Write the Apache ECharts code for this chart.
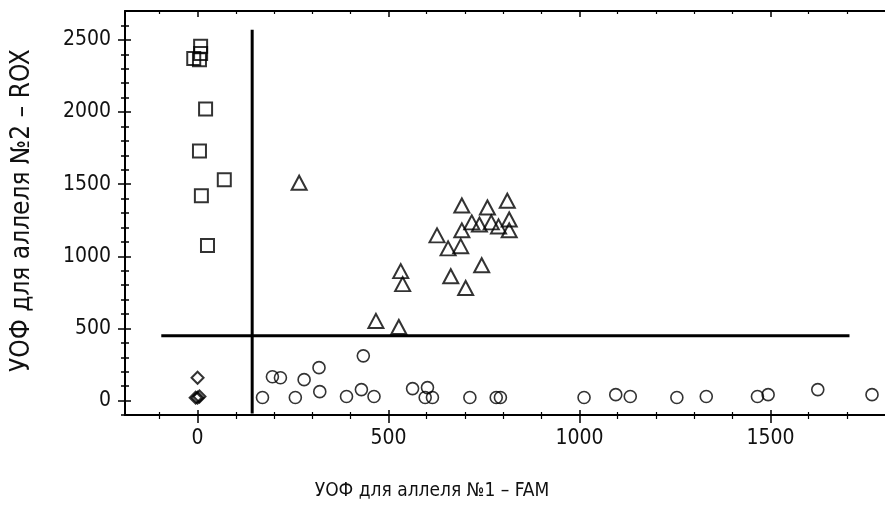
<!DOCTYPE html>
<html>
<head>
<meta charset="utf-8">
<script src="https://cdn.jsdelivr.net/npm/echarts@6/dist/echarts.min.js"></script>
<style>
html,body{margin:0;padding:0;background:#fff;}
#chart{width:885px;height:517px;}
</style>
</head>
<body>
<div id="chart"></div>
<script>
// ---- data ----
const squareX = [-10, 5, 8, 8, 21, 5, 70, 10, 26];
const squareY = [2370, 2362, 2455, 2405, 2020, 1730, 1530, 1420, 1075];

const triangleX = [266, 467, 811, 692, 759, 816, 718, 738, 769, 788, 816, 692, 627, 689, 656, 744, 532, 537, 663, 702, 527];
const triangleY = [1510, 552, 1385, 1352, 1338, 1255, 1235, 1220, 1235, 1207, 1180, 1180, 1145, 1070, 1055, 938, 897, 807, 862, 780, 510];

const circleX = [170, 196, 217, 256, 279, 318, 320, 390, 434, 429, 462, 563, 602, 596, 615, 713, 782, 793, 1012, 1095, 1133, 1255, 1332, 1466, 1494, 1624, 1766];
const circleY = [21, 165, 158, 21, 145, 228, 62, 28, 310, 76, 28, 83, 90, 21, 21, 21, 21, 21, 21, 41, 28, 21, 28, 28, 41, 76, 41];

const diamondX = [0, -5, 0, 5];
const diamondY = [158, 20, 20, 28];

// threshold lines (cluster boundaries)
const vThresholdX = [143, 143];
const vThresholdY = [-90, 2570];
const hThresholdX = [-95, 1707];
const hThresholdY = [450, 450];

// axis ticks / labels
const xMajorTicks = [0, 500, 1000, 1500];
const xMinorTicks = [-100, 100, 200, 300, 400, 600, 700, 800, 900, 1100, 1200, 1300, 1400, 1600, 1700];
const yMajorTicks = [0, 500, 1000, 1500, 2000, 2500];
const yMinorTicks = [-100, 100, 200, 300, 400, 600, 700, 800, 900, 1100, 1200, 1300, 1400, 1600, 1700, 1800, 1900, 2100, 2200, 2300, 2400, 2600];
const xTitle = 'УОФ для аллеля №1 – FAM';
const yTitle = 'УОФ для аллеля №2 – ROX';

// ---- chart ----
const zip = (a, b) => a.map((v, i) => [v, b[i]]);
const FONT = '"Liberation Sans Narrow", "DejaVu Sans Condensed", "Liberation Sans", Arial, sans-serif';
const INK = '#000';
const X_MIN = -190, X_MAX = 1800, Y_MIN = -100, Y_MAX = 2700;
const plain = v => String(v);

function xAx(opts) {
  return Object.assign({
    type: 'value', min: X_MIN, max: X_MAX, position: 'bottom',
    axisLine: { show: false, onZero: false },
    axisTick: { show: false },
    axisLabel: { show: false },
    splitLine: { show: false }
  }, opts);
}
function yAx(opts) {
  return Object.assign({
    type: 'value', min: Y_MIN, max: Y_MAX, position: 'left',
    axisLine: { show: false, onZero: false },
    axisTick: { show: false },
    axisLabel: { show: false },
    splitLine: { show: false }
  }, opts);
}
const tick = (vals, inside, len, w) => ({ show: true, customValues: vals, inside: inside, length: len, lineStyle: { color: INK, width: w } });

const xAxes = [
  xAx({
    axisLine: { show: true, onZero: false, lineStyle: { color: INK, width: 2 } },
    axisTick: tick(xMajorTicks, false, 8, 1.5),
    axisLabel: { show: true, customValues: xMajorTicks, formatter: plain, color: '#111', fontFamily: FONT, fontSize: 21, margin: 13 }
  }),
  xAx({ axisTick: tick(xMajorTicks, true, 5, 1.5) }),
  xAx({ axisTick: tick(xMinorTicks, false, 4, 1.2) }),
  xAx({ axisTick: tick(xMinorTicks, true, 3, 1.2) }),
  xAx({
    position: 'top',
    axisLine: { show: true, onZero: false, lineStyle: { color: INK, width: 2 } },
    axisTick: tick(xMajorTicks, true, 6, 1.5)
  }),
  xAx({ position: 'top', axisTick: tick(xMinorTicks, true, 3, 1.2) })
];
const yAxes = [
  yAx({
    axisLine: { show: true, onZero: false, lineStyle: { color: INK, width: 2 } },
    axisTick: tick(yMajorTicks, false, 7, 1.5),
    axisLabel: { show: true, customValues: yMajorTicks, formatter: plain, color: '#111', fontFamily: FONT, fontSize: 21, margin: 14 }
  }),
  yAx({ axisTick: tick(yMajorTicks, true, 6, 1.5) }),
  yAx({ axisTick: tick(yMinorTicks, false, 4, 1.5) }),
  yAx({ axisTick: tick(yMinorTicks, true, 4, 1.5) })
];

function scatter(name, symbol, size, bw, xs, ys) {
  return {
    name: name, type: 'scatter', xAxisIndex: 0, yAxisIndex: 0,
    symbol: symbol, symbolSize: size,
    itemStyle: { color: 'rgba(255,255,255,0)', borderColor: INK, borderWidth: bw },
    data: zip(xs, ys), z: 5
  };
}
function thresh(xs, ys) {
  return {
    type: 'line', xAxisIndex: 0, yAxisIndex: 0, data: zip(xs, ys),
    symbol: 'none', lineStyle: { color: INK, width: 3 }, z: 3, silent: true
  };
}

const chart = echarts.init(document.getElementById('chart'), null, { renderer: 'canvas' });
chart.setOption({
  backgroundColor: '#ffffff',
  animation: false,
  grid: { left: 125, top: 11, width: 771, height: 404, containLabel: false },
  xAxis: xAxes,
  yAxis: yAxes,
  series: [
    thresh(vThresholdX, vThresholdY),
    thresh(hThresholdX, hThresholdY),
    scatter('squares', 'rect', 13, 2, squareX, squareY),
    scatter('triangles', 'triangle', [15, 14], 2, triangleX, triangleY),
    scatter('circles', 'circle', 12, 1.6, circleX, circleY),
    scatter('diamonds', 'diamond', [12, 12], 2, diamondX, diamondY)
  ],
  graphic: [
    { type: 'text', x: 432, y: 482, style: { text: xTitle, fill: '#111', font: '19px ' + FONT, textAlign: 'center' } },
    { type: 'text', rotation: Math.PI / 2, x: 9, y: 372, style: { text: yTitle, fill: '#111', font: '26px ' + FONT } }
  ]
});
</script>
</body>
</html>
